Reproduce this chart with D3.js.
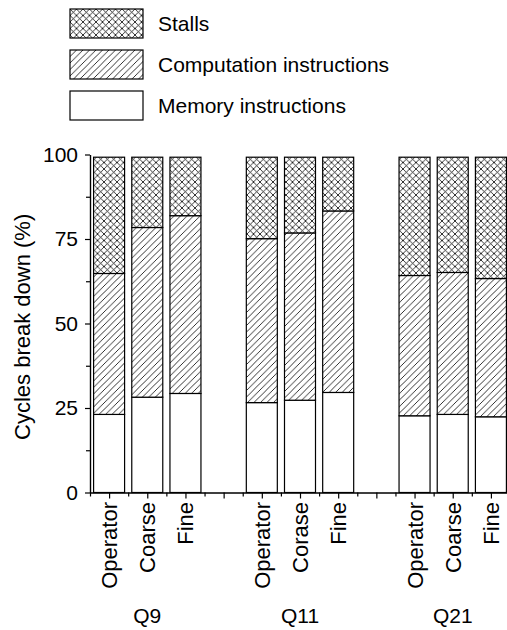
<!DOCTYPE html>
<html>
<head>
<meta charset="utf-8">
<script src="https://cdn.jsdelivr.net/npm/d3@7"></script>
<style>
  body { margin: 0; background: #fff; }
  text { font-family: "Liberation Sans", Arial, Helvetica, sans-serif; fill: #000; }
</style>
</head>
<body>
<div id="chart"></div>
<script>
// data (percent of cycles)
const queries = ["Q9", "Q11", "Q21"];
const configs = ["Operator", "Coarse", "Fine", "Operator", "Corase", "Fine", "Operator", "Coarse", "Fine"];
const memory = [23.1, 28.2, 29.3, 26.6, 27.3, 29.6, 22.7, 23.1, 22.4];
const computation = [41.7, 50.2, 52.6, 48.5, 49.5, 53.7, 41.5, 42.0, 40.9];
const stalls = [34.4, 20.8, 17.3, 24.1, 22.4, 15.9, 35.0, 34.1, 35.9];
const legendNames = ["Stalls", "Computation instructions", "Memory instructions"];
const yTicks = [0, 25, 50, 75, 100];
const yMinor = [12.5, 37.5, 62.5, 87.5];

const width = 507, height = 630;

// each group takes 3 slots plus one empty slot between groups
const rows = configs.map((c, i) => ({
  slot: Math.floor(i / 3) * 4 + (i % 3),
  label: c,
  memory: memory[i],
  computation: computation[i],
  stalls: stalls[i]
}));

const svg = d3.select("#chart").append("svg")
    .attr("width", width)
    .attr("height", height);

const defs = svg.append("defs");
const hatch = defs.append("pattern")
    .attr("id", "hatch")
    .attr("patternUnits", "userSpaceOnUse")
    .attr("width", 6.5).attr("height", 6.5);
hatch.append("rect").attr("width", 6.5).attr("height", 6.5).attr("fill", "#fff");
hatch.append("path")
    .attr("d", "M0,6.5L6.5,0M-1,1L1,-1M5.5,7.5L7.5,5.5")
    .attr("stroke", "#000").attr("stroke-width", 0.8);

const cross = defs.append("pattern")
    .attr("id", "cross")
    .attr("patternUnits", "userSpaceOnUse")
    .attr("width", 6.5).attr("height", 6.5);
cross.append("rect").attr("width", 6.5).attr("height", 6.5).attr("fill", "#fff");
cross.append("path")
    .attr("d", "M0,6.5L6.5,0M-1,1L1,-1M5.5,7.5L7.5,5.5M0,0L6.5,6.5M-1,5.5L1,7.5M5.5,-1L7.5,1")
    .attr("stroke", "#000").attr("stroke-width", 0.8);

const x = d3.scaleLinear().domain([-0.5, 10.5]).range([90, 510]);
const y = d3.scaleLinear().domain([0, 100]).range([492.5, 154.5]);
const barW = 31;

const keys = ["memory", "computation", "stalls"];
const fills = { memory: "#fff", computation: "url(#hatch)", stalls: "url(#cross)" };
const stacked = d3.stack().keys(keys)(rows);

svg.append("g").selectAll("g")
  .data(stacked)
  .join("g")
    .attr("fill", d => fills[d.key])
  .selectAll("rect")
  .data(d => d)
  .join("rect")
    .attr("x", d => x(d.data.slot) - barW / 2)
    .attr("y", d => y(d[1]))
    .attr("width", barW)
    .attr("height", d => y(d[0]) - y(d[1]))
    .attr("stroke", "#000")
    .attr("stroke-width", 1.2);

// y axis
const yAxis = svg.append("g")
    .attr("transform", `translate(${x(-0.5)},0)`)
    .call(d3.axisLeft(y).tickValues(yTicks).tickSize(5).tickSizeOuter(0).tickPadding(7));
svg.append("g")
    .attr("transform", `translate(${x(-0.5)},0)`)
    .call(d3.axisLeft(y).tickValues(yMinor).tickSize(4).tickSizeOuter(0).tickFormat(""));
yAxis.selectAll("text").attr("font-size", 21).attr("font-family", null);

// x axis
svg.append("g")
    .attr("transform", `translate(0,${y(0)})`)
    .call(d3.axisBottom(x).tickValues(d3.range(0, 11)).tickSize(6).tickSizeOuter(0).tickFormat(""));
svg.append("g")
    .attr("transform", `translate(0,${y(0)})`)
    .call(d3.axisBottom(x).tickValues(d3.range(-0.5, 11, 1)).tickSize(4).tickSizeOuter(0).tickFormat(""));

svg.selectAll(".domain, .tick line").attr("stroke", "#000").attr("stroke-width", 1.2);

// rotated bar labels
svg.append("g").selectAll("text")
  .data(rows)
  .join("text")
    .attr("transform", d => `translate(${x(d.slot) + 8},502) rotate(-90)`)
    .attr("text-anchor", "end")
    .attr("font-size", 22)
    .text(d => d.label);

// group labels
svg.append("g").selectAll("text")
  .data(queries)
  .join("text")
    .attr("x", (d, i) => x(i * 4 + 1))
    .attr("y", 623)
    .attr("text-anchor", "middle")
    .attr("font-size", 21)
    .text(d => d);

// y title
svg.append("text")
    .attr("transform", `translate(30,${y(49)}) rotate(-90)`)
    .attr("text-anchor", "middle")
    .attr("font-size", 22)
    .text("Cycles break down (%)");

// legend
const legendFills = ["url(#cross)", "url(#hatch)", "#fff"];
const legend = svg.append("g").selectAll("g")
  .data(legendNames)
  .join("g")
    .attr("transform", (d, i) => `translate(70,${9 + i * 41})`);
legend.append("rect")
    .attr("width", 73).attr("height", 29)
    .attr("fill", (d, i) => legendFills[i])
    .attr("stroke", "#000").attr("stroke-width", 1.2);
legend.append("text")
    .attr("x", 88).attr("y", 22)
    .attr("font-size", 21)
    .text(d => d);
</script>
</body>
</html>
